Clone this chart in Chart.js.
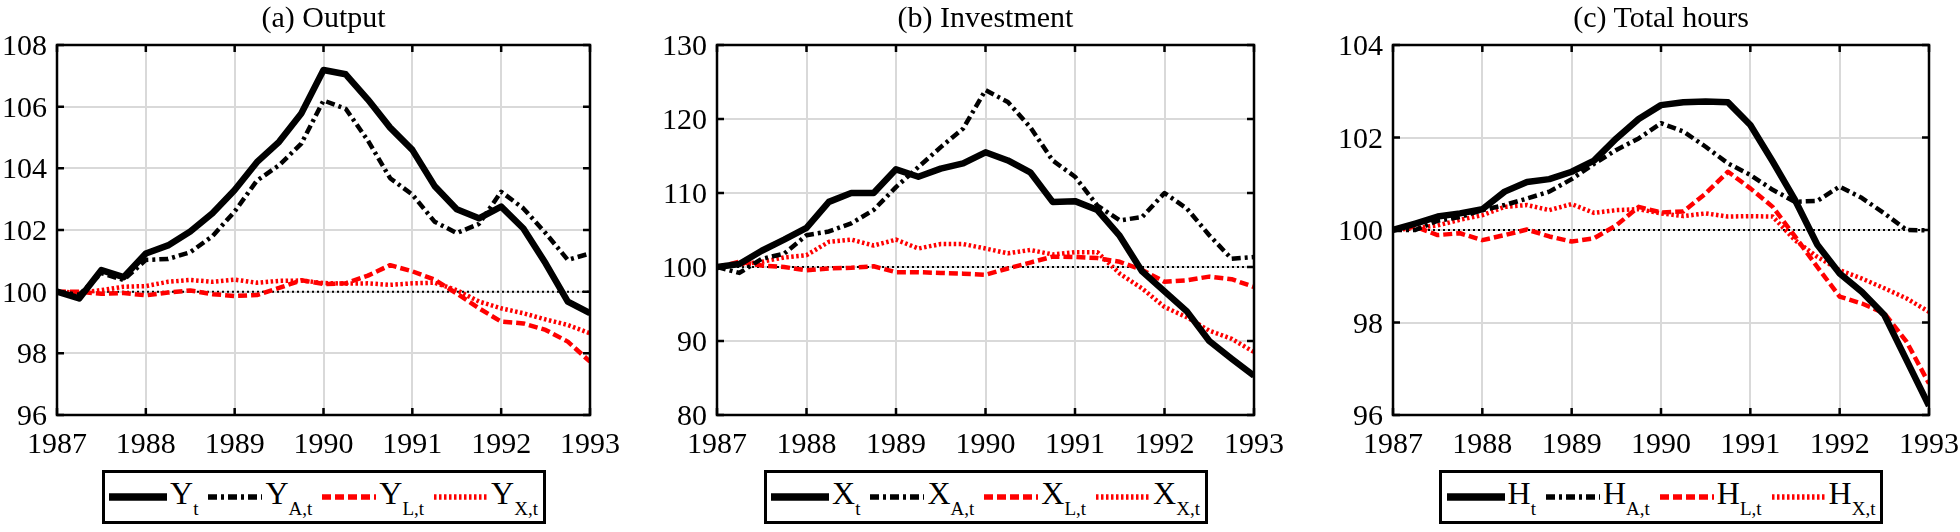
<!DOCTYPE html>
<html>
<head>
<meta charset="utf-8">
<script src="https://cdn.jsdelivr.net/npm/chart.js@4.4.1/dist/chart.umd.min.js"></script>
<style>
:root { --fs: 30px; --ls: 32px; --ss: 19px; }
body { margin: 0; background: #fff; width: 1960px; height: 532px; overflow: hidden; position: relative; font-family: "Liberation Serif", "DejaVu Serif", serif; }
canvas { position: absolute; top: 0; }
.lbl { position: absolute; width: 100px; font-size: var(--fs); line-height: 30px; height: 30px; color: #000; white-space: nowrap; }
.lbl.c { text-align: center; }
.lbl.r { text-align: right; }
.ttl { position: absolute; width: 400px; text-align: center; font-size: var(--fs); line-height: 30px; color: #000; white-space: nowrap; }
.legend { position: absolute; top: 470px; height: 54px; width: 444px; border: 3px solid #000; box-sizing: border-box;
          display: flex; align-items: center; justify-content: center; background: #fff; }
.item { display: flex; align-items: center; margin: 0 5px; }
.item svg { margin-right: 3px; }
.sym { font-size: var(--ls); line-height: 1; color: #000; }
.sym sub { font-size: var(--ss); vertical-align: -11px; }
</style>
</head>
<body>
<canvas id="chartA"></canvas>
<canvas id="chartB"></canvas>
<canvas id="chartC"></canvas>

<script>
// quarterly observations, 1987Q1 .. 1993Q1
const quarters = [1987, 1987.25, 1987.5, 1987.75, 1988, 1988.25, 1988.5, 1988.75, 1989, 1989.25, 1989.5, 1989.75,
                  1990, 1990.25, 1990.5, 1990.75, 1991, 1991.25, 1991.5, 1991.75, 1992, 1992.25, 1992.5, 1992.75, 1993];
const yearTicks = [1987, 1988, 1989, 1990, 1991, 1992, 1993];
const subscripts = ['t', 'A,t', 'L,t', 'X,t'];

// (a) Output
const outputY = [100, 99.78, 100.7, 100.47, 101.24, 101.5, 101.95, 102.54, 103.3, 104.2, 104.86, 105.78,
                 107.19, 107.05, 106.23, 105.32, 104.6, 103.43, 102.67, 102.38, 102.76, 102.05, 100.92, 99.68, 99.3];
const outputA = [100, 99.9, 100.6, 100.38, 101.03, 101.06, 101.28, 101.8, 102.6, 103.6, 104.1, 104.8,
                 106.2, 105.93, 104.9, 103.68, 103.15, 102.27, 101.9, 102.2, 103.24, 102.7, 101.9, 101.03, 101.24];
const outputL = [100, 100.0, 99.93, 99.96, 99.88, 99.97, 100.04, 99.92, 99.86, 99.89, 100.12, 100.37,
                 100.25, 100.27, 100.52, 100.86, 100.66, 100.39, 99.94, 99.46, 99.03, 98.97, 98.76, 98.38, 97.73];
const outputX = [100, 99.97, 100.05, 100.16, 100.18, 100.32, 100.38, 100.32, 100.39, 100.29, 100.35, 100.36,
                 100.28, 100.26, 100.27, 100.22, 100.27, 100.29, 100.05, 99.68, 99.46, 99.3, 99.1, 98.92, 98.65];

// (b) Investment
const investX  = [100, 100.4, 102.2, 103.7, 105.3, 108.8, 110, 110, 113.2, 112.2, 113.3, 114,
                  115.5, 114.4, 112.8, 108.8, 108.9, 107.7, 104.2, 99.4, 96.7, 94, 90, 87.6, 85.3];
const investA  = [100, 99.2, 101.1, 101.8, 104.3, 104.8, 105.9, 107.7, 110.8, 113.5, 116.2, 118.7,
                  123.9, 122.3, 118.9, 114.4, 112.2, 108.3, 106.3, 106.75, 110, 107.9, 104.3, 101.1, 101.35];
const investL  = [100, 100.7, 100.2, 100, 99.55, 99.8, 99.9, 100.1, 99.3, 99.3, 99.2, 99.1,
                  98.95, 99.8, 100.6, 101.4, 101.35, 101.2, 100.7, 99.6, 98, 98.2, 98.7, 98.35, 97.3];
const investXX = [100, 100.35, 100.7, 101.3, 101.6, 103.4, 103.7, 102.9, 103.7, 102.5, 103.1, 103.1,
                  102.5, 101.85, 102.3, 101.7, 102, 102, 99.1, 97.1, 94.6, 93.2, 91.4, 90.3, 88.5];

// (c) Total hours
const hoursH = [100, 100.14, 100.29, 100.36, 100.45, 100.83, 101.04, 101.1, 101.26, 101.5, 101.98, 102.4,
                102.7, 102.76, 102.78, 102.76, 102.27, 101.48, 100.65, 99.68, 99.06, 98.66, 98.16, 97.18, 96.2];
const hoursA = [100, 100.0, 100.2, 100.28, 100.43, 100.54, 100.68, 100.83, 101.1, 101.43, 101.73, 101.98,
                102.31, 102.13, 101.8, 101.44, 101.19, 100.87, 100.61, 100.63, 100.94, 100.69, 100.36, 100, 99.99];
const hoursL = [100, 100.07, 99.89, 99.93, 99.78, 99.89, 100.01, 99.86, 99.75, 99.82, 100.1, 100.5,
                100.38, 100.4, 100.79, 101.26, 100.9, 100.5, 99.86, 99.2, 98.56, 98.41, 98.2, 97.58, 96.68];
const hoursX = [100, 100.04, 100.1, 100.22, 100.32, 100.5, 100.54, 100.43, 100.56, 100.37, 100.43, 100.45,
                100.36, 100.3, 100.36, 100.29, 100.3, 100.29, 99.78, 99.42, 99.13, 98.95, 98.74, 98.52, 98.23];

const baseline = 100;

const lineStyles = [
    { color: '#000000', width: 6.5, dash: [] },
    { color: '#000000', width: 4.5, dash: [9, 4, 3, 4] },
    { color: '#ff0000', width: 4.5, dash: [9, 4] },
    { color: '#ff0000', width: 4.5, dash: [2.5, 2.5] }
];

const panels = [
    { canvas: 'chartA', title: '(a) Output', letter: 'Y', series: [outputY, outputA, outputL, outputX],
      min: 96, max: 108, step: 2, plotLeft: 57, plotRight: 590 },
    { canvas: 'chartB', title: '(b) Investment', letter: 'X', series: [investX, investA, investL, investXX],
      min: 80, max: 130, step: 10, plotLeft: 717, plotRight: 1254 },
    { canvas: 'chartC', title: '(c) Total hours', letter: 'H', series: [hoursH, hoursA, hoursL, hoursX],
      min: 96, max: 104, step: 2, plotLeft: 1393, plotRight: 1929 }
];

const AXIS_W = 57, TOP_H = 45, PLOT_H = 370, BOTTOM_H = 48, RIGHT_PAD = 31;

// Liberation Serif did not seem to resolve here; fall back to DejaVu Serif
// (wider, so a smaller size) when the browser can't find it
function pickSerif() {
    const width = fam => {
        const s = document.createElement('span');
        s.style.cssText = 'position:absolute;visibility:hidden;white-space:nowrap;font-size:30px;font-family:' + fam;
        s.textContent = '1987 (a) Output';
        document.body.appendChild(s);
        const w = s.offsetWidth;
        s.remove();
        return w;
    };
    const root = document.documentElement.style;
    if (width('"Liberation Serif", monospace') === width('monospace')) {
        document.body.style.fontFamily = '"DejaVu Serif", serif';
        root.setProperty('--fs', '26px');
        root.setProperty('--ls', '28px');
        root.setProperty('--ss', '17px');
    }
}

// dotted reference line at 100, inward tick marks and the frame
const framePlugin = {
    id: 'frame',
    beforeDatasetsDraw(chart) {
        const { ctx, chartArea: a, scales } = chart;
        const y = scales.y.getPixelForValue(baseline);
        ctx.save();
        ctx.strokeStyle = '#000';
        ctx.lineWidth = 2;
        ctx.setLineDash([2, 3]);
        ctx.beginPath();
        ctx.moveTo(a.left, y);
        ctx.lineTo(a.right, y);
        ctx.stroke();
        ctx.restore();
    },
    afterDraw(chart) {
        const { ctx, chartArea: a, scales } = chart;
        const len = 7;
        ctx.save();
        ctx.strokeStyle = '#000';
        ctx.lineWidth = 2.5;
        ctx.setLineDash([]);
        ctx.beginPath();
        scales.x.ticks.forEach(t => {
            const x = scales.x.getPixelForValue(t.value);
            ctx.moveTo(x, a.bottom); ctx.lineTo(x, a.bottom - len);
            ctx.moveTo(x, a.top); ctx.lineTo(x, a.top + len);
        });
        scales.y.ticks.forEach(t => {
            const y = scales.y.getPixelForValue(t.value);
            ctx.moveTo(a.left, y); ctx.lineTo(a.left + len, y);
            ctx.moveTo(a.right, y); ctx.lineTo(a.right - len, y);
        });
        ctx.stroke();
        ctx.strokeRect(a.left, a.top, a.right - a.left, a.bottom - a.top);
        ctx.restore();
    }
};

function addLabel(cls, text, left, top) {
    const d = document.createElement('div');
    d.className = cls;
    d.textContent = text;
    d.style.left = left + 'px';
    d.style.top = top + 'px';
    document.body.appendChild(d);
}

// titles and tick labels as HTML text, placed from the chart's own scales
function addAxisText(chart, p, offsetX) {
    const a = chart.chartArea;
    const sx = chart.scales.x, sy = chart.scales.y;
    sx.ticks.forEach(t => {
        addLabel('lbl c', String(t.value), offsetX + sx.getPixelForValue(t.value) - 50, a.bottom + 13);
    });
    sy.ticks.forEach(t => {
        addLabel('lbl r', String(t.value), offsetX + a.left - 110, sy.getPixelForValue(t.value) - 15);
    });
    addLabel('ttl', p.title, offsetX + (a.left + a.right) / 2 - 200, 2);
}

function makeLegend(p) {
    const box = document.createElement('div');
    box.className = 'legend';
    const center = (p.plotLeft + p.plotRight) / 2;
    box.style.left = (center - 222) + 'px';
    lineStyles.forEach((s, i) => {
        const item = document.createElement('div');
        item.className = 'item';
        const dash = s.dash.length ? s.dash.join(' ') : 'none';
        const w = i === 0 ? 58 : 54;
        item.innerHTML =
            '<svg width="' + w + '" height="12"><line x1="0" y1="6" x2="' + w + '" y2="6" stroke="' + s.color +
            '" stroke-width="' + (s.width + 1) + '" stroke-dasharray="' + dash + '"/></svg>' +
            '<span class="sym">' + p.letter + '<sub>' + subscripts[i] + '</sub></span>';
        box.appendChild(item);
    });
    document.body.appendChild(box);
}

function buildPanel(p) {
    const el = document.getElementById(p.canvas);
    const offsetX = p.plotLeft - AXIS_W;
    el.style.left = offsetX + 'px';
    el.width = p.plotRight - p.plotLeft + AXIS_W + RIGHT_PAD;
    el.height = TOP_H + PLOT_H + BOTTOM_H;

    const datasets = p.series.map((vals, i) => ({
        data: vals.map((v, k) => ({ x: quarters[k], y: v })),
        borderColor: lineStyles[i].color,
        borderWidth: lineStyles[i].width,
        borderDash: lineStyles[i].dash,
        borderCapStyle: 'butt',
        borderJoinStyle: 'round',
        pointRadius: 0,
        tension: 0,
        fill: false
    }));

    const chart = new Chart(el, {
        type: 'line',
        data: { datasets: datasets },
        options: {
            responsive: false,
            animation: false,
            devicePixelRatio: 1,
            layout: { padding: { right: RIGHT_PAD, top: TOP_H, bottom: 0, left: 0 } },
            plugins: {
                legend: { display: false },
                tooltip: { enabled: false },
                title: { display: false }
            },
            scales: {
                x: {
                    type: 'linear',
                    min: yearTicks[0],
                    max: yearTicks[yearTicks.length - 1],
                    afterBuildTicks: s => { s.ticks = yearTicks.map(v => ({ value: v })); },
                    afterFit: s => { s.height = BOTTOM_H; },
                    grid: { color: '#d9d9d9', lineWidth: 2, drawTicks: false },
                    border: { display: false },
                    ticks: { display: false }
                },
                y: {
                    min: p.min,
                    max: p.max,
                    afterFit: s => { s.width = AXIS_W; },
                    grid: { color: '#d9d9d9', lineWidth: 2, drawTicks: false },
                    border: { display: false },
                    ticks: { display: false, stepSize: p.step }
                }
            }
        },
        plugins: [framePlugin]
    });
    addAxisText(chart, p, offsetX);
    makeLegend(p);
}

pickSerif();
panels.forEach(buildPanel);
</script>
</body>
</html>
